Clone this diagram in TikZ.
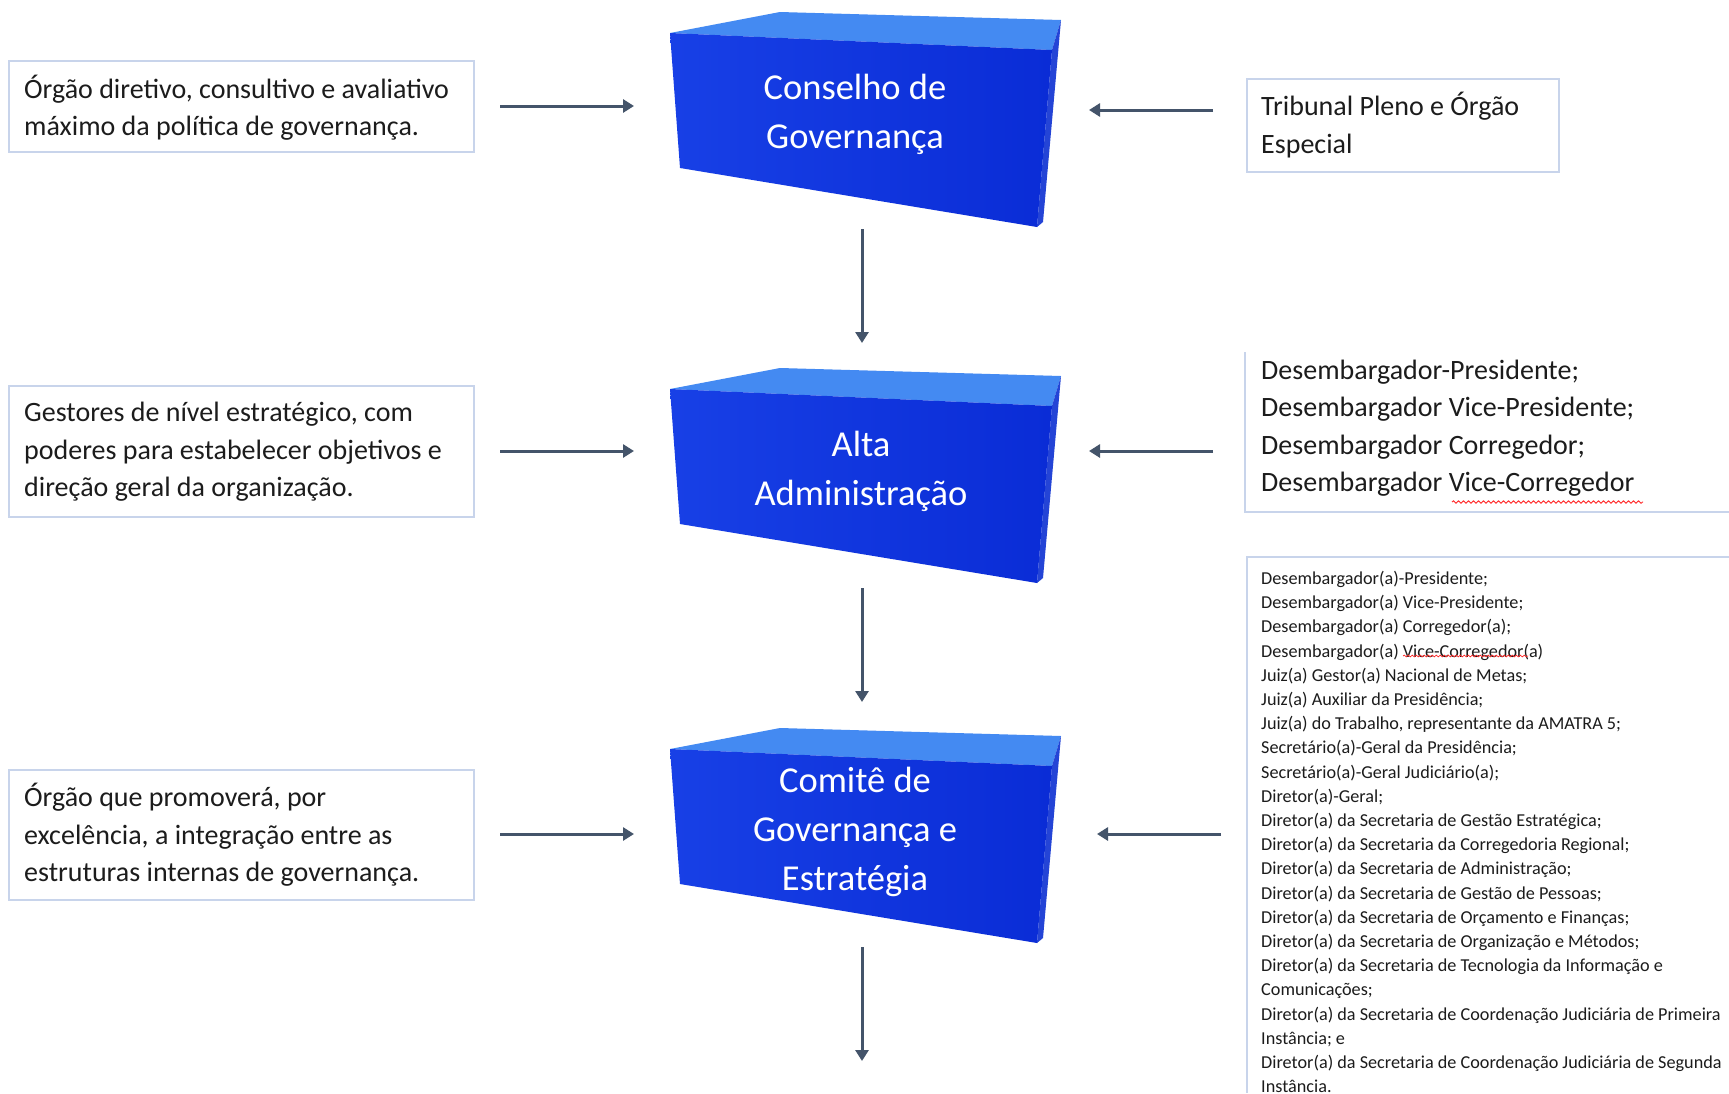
\documentclass[tikz,border=0pt]{standalone}
\usepackage{fontspec}
\setmainfont{Carlito}
\usetikzlibrary{arrows.meta,decorations.pathmorphing}
\definecolor{lborder}{RGB}{200,212,235}
\definecolor{arrcol}{HTML}{44546A}
\definecolor{txt}{RGB}{28,28,28}
\definecolor{frontL}{RGB}{24,64,230}
\definecolor{frontR}{RGB}{10,44,214}
\definecolor{topface}{RGB}{68,138,242}
\definecolor{sideface}{RGB}{36,68,214}
\tikzset{
  lbox/.style={draw=lborder, line width=1.5pt, fill=white, inner sep=0pt},
  ltext/.style={text=txt, align=left, inner sep=0pt, font=\fontsize{28}{37.5}\selectfont},
  stext/.style={text=txt, align=left, inner sep=0pt, font=\fontsize{18.2}{24.2}\selectfont},
  btext/.style={text=white, align=center, inner sep=0pt, font=\fontsize{36.5}{49}\selectfont},
  arr/.style={draw=arrcol, line width=3pt, -{Triangle[length=11pt,width=13pt]}},
  squig/.style={draw=red!85, line width=0.9pt, decorate, decoration={snake, segment length=5pt, amplitude=1.2pt}},
  pics/block3d/.style={code={
    \fill[topface] (670,33) -- (780,12) -- (1061,20) -- (1052,50) -- cycle;
    \fill[sideface] (1052,50) -- (1061,20) -- (1043,222) -- (1037,227) -- cycle;
    \shade[left color=frontL, right color=frontR] (670,33) -- (1052,50) -- (1037,227) -- (680,168) -- cycle;
  }}
}
\begin{document}
\begin{tikzpicture}[x=1pt,y=-1pt]
\useasboundingbox (0,0) rectangle (1729,1093);
\fill[white] (0,0) rectangle (1729,1093);

% 3D blocks
\pic at (0,0) {block3d};
\pic at (0,356) {block3d};
\pic at (0,716) {block3d};

\node[btext] (b1) at (855,114) {Conselho de\\Governança};
\node[btext] (b2) at (861,471) {Alta\\Administração};
\node[btext] (b3) at (855,832) {Comitê de\\Governança e\\Estratégia};

% left boxes
\node[lbox, minimum width=465pt, minimum height=91pt] (lb1) at (241.5,106.5) {};
\node[ltext, anchor=west] (lt1) at (24,107.5) {Órgão diretivo, consultivo e avaliativo\\máximo da política de governança.};
\node[lbox, minimum width=465pt, minimum height=131pt] (lb2) at (241.5,451.5) {};
\node[ltext, anchor=west] (lt2) at (24,452) {Gestores de nível estratégico, com\\poderes para estabelecer objetivos e\\direção geral da organização.};
\node[lbox, minimum width=465pt, minimum height=130pt] (lb3) at (241.5,835) {};
\node[ltext, anchor=west] (lt3) at (24,835) {Órgão que promoverá, por\\excelência, a integração entre as\\estruturas internas de governança.};

% right boxes
\node[lbox, minimum width=312pt, minimum height=93pt] (rb1) at (1403,125.5) {};
\node[ltext, anchor=west] (rt1) at (1261,125) {Tribunal Pleno e Órgão\\Especial};
\draw[lborder, line width=1.5pt] (1245,352) -- (1245,512) -- (1729,512);
\node[ltext, anchor=west] (rt2) at (1261,428) {Desembargador-Presidente;\\Desembargador Vice-Presidente;\\Desembargador Corregedor;\\Desembargador Vice-Corregedor};
\draw[lborder, line width=1.5pt] (1729,557) -- (1247,557) -- (1247,1093);
\node[stext, anchor=west] (rt3) at (1261,832) {Desembargador(a)-Presidente;\\
Desembargador(a) Vice-Presidente;\\
Desembargador(a) Corregedor(a);\\
Desembargador(a) Vice-Corregedor(a)\\
Juiz(a) Gestor(a) Nacional de Metas;\\
Juiz(a) Auxiliar da Presidência;\\
Juiz(a) do Trabalho, representante da AMATRA 5;\\
Secretário(a)-Geral da Presidência;\\
Secretário(a)-Geral Judiciário(a);\\
Diretor(a)-Geral;\\
Diretor(a) da Secretaria de Gestão Estratégica;\\
Diretor(a) da Secretaria da Corregedoria Regional;\\
Diretor(a) da Secretaria de Administração;\\
Diretor(a) da Secretaria de Gestão de Pessoas;\\
Diretor(a) da Secretaria de Orçamento e Finanças;\\
Diretor(a) da Secretaria de Organização e Métodos;\\
Diretor(a) da Secretaria de Tecnologia da Informação e\\
Comunicações;\\
Diretor(a) da Secretaria de Coordenação Judiciária de Primeira\\
Instância; e\\
Diretor(a) da Secretaria de Coordenação Judiciária de Segunda\\
Instância.};

% spell-check squiggles
\coordinate (sq1a) at (1452,502); \coordinate (sq1b) at (1643,502);
\draw[squig] (sq1a) -- (sq1b);
\coordinate (sq2a) at (1403,656); \coordinate (sq2b) at (1528,656);
\draw[squig, decoration={snake, segment length=4pt, amplitude=0.9pt}, line width=0.7pt] (sq2a) -- (sq2b);

% arrow end points
\coordinate (l1s) at (500,106); \coordinate (l1e) at (634,106);
\coordinate (l2s) at (500,451); \coordinate (l2e) at (634,451);
\coordinate (l3s) at (500,834); \coordinate (l3e) at (634,834);
\coordinate (r1s) at (1213,110); \coordinate (r1e) at (1089,110);
\coordinate (r2s) at (1213,451); \coordinate (r2e) at (1089,451);
\coordinate (r3s) at (1221,834); \coordinate (r3e) at (1097,834);
\coordinate (v1s) at (862,229); \coordinate (v1e) at (862,343);
\coordinate (v2s) at (862,588); \coordinate (v2e) at (862,702);
\coordinate (v3s) at (862,947); \coordinate (v3e) at (862,1061);

\foreach \a in {l1,l2,l3,r1,r2,r3,v1,v2,v3} {
  \draw[arr] (\a s) -- (\a e);
}
\end{tikzpicture}
\end{document}
